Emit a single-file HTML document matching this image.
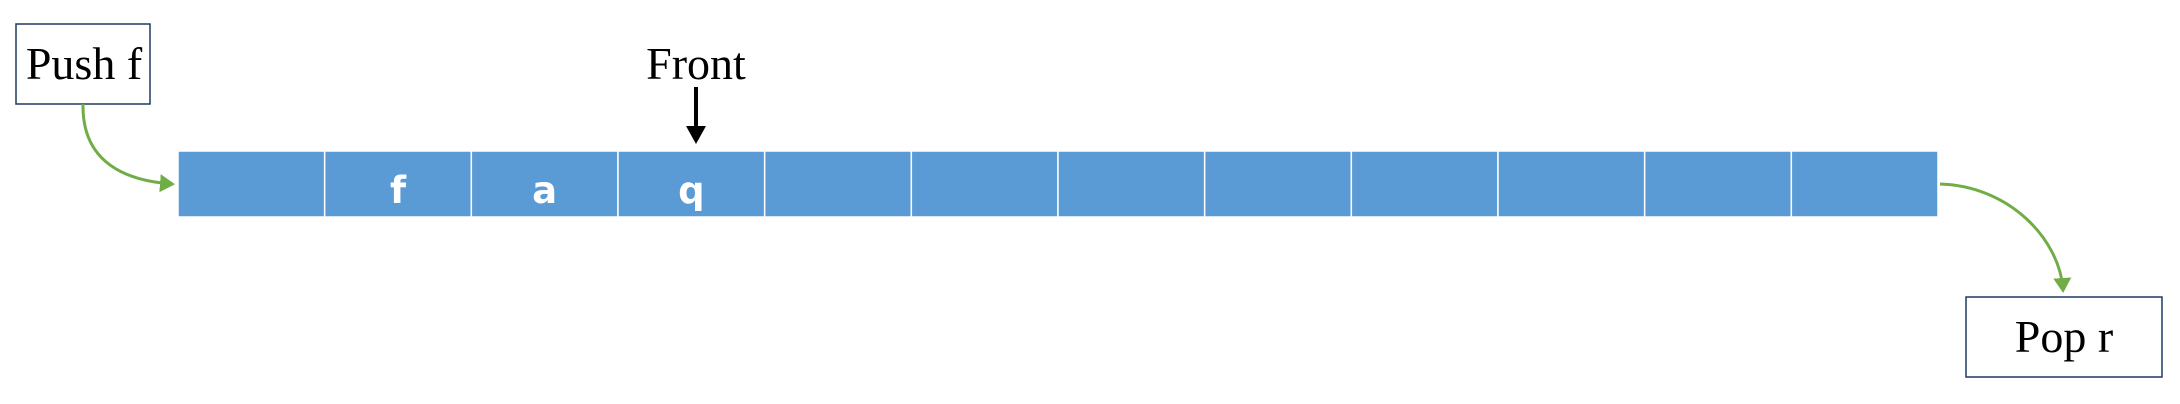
<!DOCTYPE html>
<html><head><meta charset="utf-8"><style>
html,body{margin:0;padding:0;background:#fff;}
svg{display:block;}
</style></head><body>
<svg width="2180" height="404" viewBox="0 0 2180 404">
<defs>
<marker id="ga" markerWidth="6" markerHeight="6" refX="4" refY="3" orient="auto" markerUnits="strokeWidth"><path d="M0,0 L5,3 L0,6 Z" fill="#70AD47"/></marker>
</defs>
<g id="cells"></g>
<rect x="16" y="24" width="134" height="80" fill="#fff" stroke="#1F3864" stroke-width="1.5"/>
<text x="84" y="79" text-anchor="middle" font-family="Liberation Serif, serif" font-size="46">Push f</text>
<path d="M83,104 C82,155 115,180 172,184" fill="none" stroke="#70AD47" stroke-width="3" marker-end="url(#ga)"/>
<text x="696" y="79" text-anchor="middle" font-family="Liberation Serif, serif" font-size="46">Front</text>
<line x1="696" y1="87" x2="696" y2="128" stroke="#000" stroke-width="4"/>
<path d="M686,126 L706,126 L696,144 Z" fill="#000"/>
<rect x="1966" y="297" width="196" height="80" fill="#fff" stroke="#1F3864" stroke-width="1.5"/>
<text x="2064" y="352" text-anchor="middle" font-family="Liberation Serif, serif" font-size="46">Pop r</text>
<path d="M1940,184 C2010,186 2060,240 2063,290" fill="none" stroke="#70AD47" stroke-width="3" marker-end="url(#ga)"/>
</svg>
<script>
const cellLabels = ["", "f", "a", "q", "", "", "", "", "", "", "", ""];
const g = document.getElementById('cells');
const x0 = 178, x1 = 1938, w = (x1 - x0) / cellLabels.length;
const NS = "http://www.w3.org/2000/svg";
cellLabels.forEach((lab, i) => {
  const r = document.createElementNS(NS, 'rect');
  r.setAttribute('x', x0 + i * w);
  r.setAttribute('y', 151);
  r.setAttribute('width', w);
  r.setAttribute('height', 66);
  r.setAttribute('fill', '#5B9BD5');
  r.setAttribute('stroke', '#fff');
  r.setAttribute('stroke-width', '1.5');
  
  
  g.appendChild(r);
  if (lab) {
    const t = document.createElementNS(NS, 'text');
    t.setAttribute('x', x0 + (i + 0.5) * w);
    t.setAttribute('y', 203);
    t.setAttribute('text-anchor', 'middle');
    t.setAttribute('font-family', 'DejaVu Sans, Liberation Sans, sans-serif');
    t.setAttribute('font-weight', 'bold');
    t.setAttribute('font-size', '37');
    t.setAttribute('fill', '#fff');
    t.textContent = lab;
    
    
    g.appendChild(t);
  }
});
</script>
</body></html>
